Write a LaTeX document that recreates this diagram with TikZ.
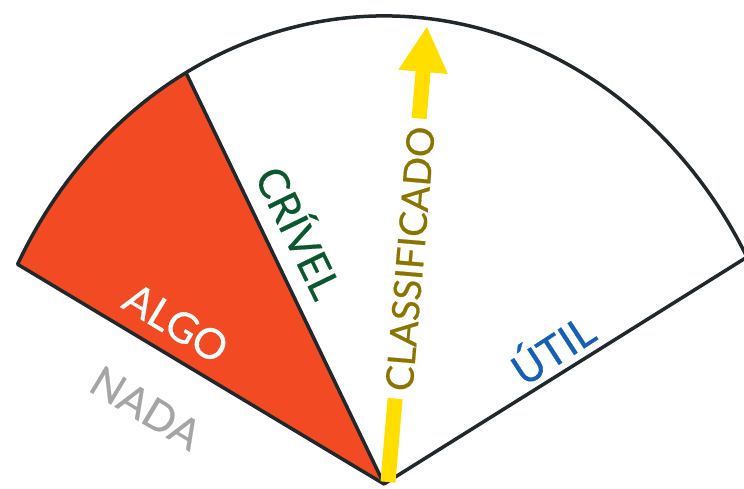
\documentclass[tikz,border=0pt]{standalone}
\usepackage{fontspec}
\setmainfont{Lato}
\newfontfamily\labelfont{Lato}[UprightFeatures = {FakeBold = 0.5}]
\usetikzlibrary{arrows.meta}
\usetikzlibrary{calc}
\definecolor{wedgered}{RGB}{242,74,35}
\definecolor{rimgray}{RGB}{32,40,44}
\definecolor{beamyellow}{RGB}{255,222,0}
\definecolor{darkolive}{RGB}{139,117,0}
\definecolor{leafgreen}{RGB}{12,88,46}
\definecolor{skyblue}{RGB}{21,94,186}
\definecolor{ashgray}{RGB}{165,165,165}

\begin{document}
\begin{tikzpicture}[
            x = 1pt, y = 1pt, % one unit per pixel
            rim/.style = {draw = rimgray, line width = 3.5pt, line join = round},
            word/.style = {font = \labelfont\fontsize{42}{44}\selectfont, inner sep = 0pt}
        ]

        \useasboundingbox (0,0) rectangle (744,488);

        % corners of the fan
        \coordinate (O) at (384,4);
        \coordinate (L) at ($(O)+(152:415 and 468)$);
        \coordinate (R) at ($(O)+(118.5:415 and 468)$);
        \coordinate (E) at ($(O)+(29:415 and 468)$);

        % red slice
        \fill[wedgered] (O) -- (L) arc[start angle=152, end angle=118.5, x radius=415, y radius=468] -- cycle;

        % outline
        \draw[rim] (O) -- (L) arc[start angle=152, end angle=29, x radius=415, y radius=468] -- cycle;
        \draw[rim] (R) -- (O);

        % arrow
        \coordinate (S) at (388,6);
        \coordinate (T) at (427,462);
        \draw[beamyellow, line width = 15pt, -{Triangle[length=46pt, width=46pt]}] (S) -- (T)
            node[word, font = \labelfont\fontsize{38}{40}\selectfont, pos = 0.49, sloped, fill = white, text = darkolive, inner xsep = 8pt, yshift = -3pt] (classified) {CLASSIFICADO};

        % labels
        \node[word, text = ashgray, rotate = -31] (nada) at (146,80) {NADA};
        \node[word, text = white, rotate = -31] (algo) at (176,165) {ALGO};
        \node[word, text = leafgreen, rotate = -64] (crivel) at (302,257) {CRÍVEL};
        \node[word, text = skyblue, rotate = 33] (util) at (551,141) {ÚTIL};

  \end{tikzpicture}
\end{document}
